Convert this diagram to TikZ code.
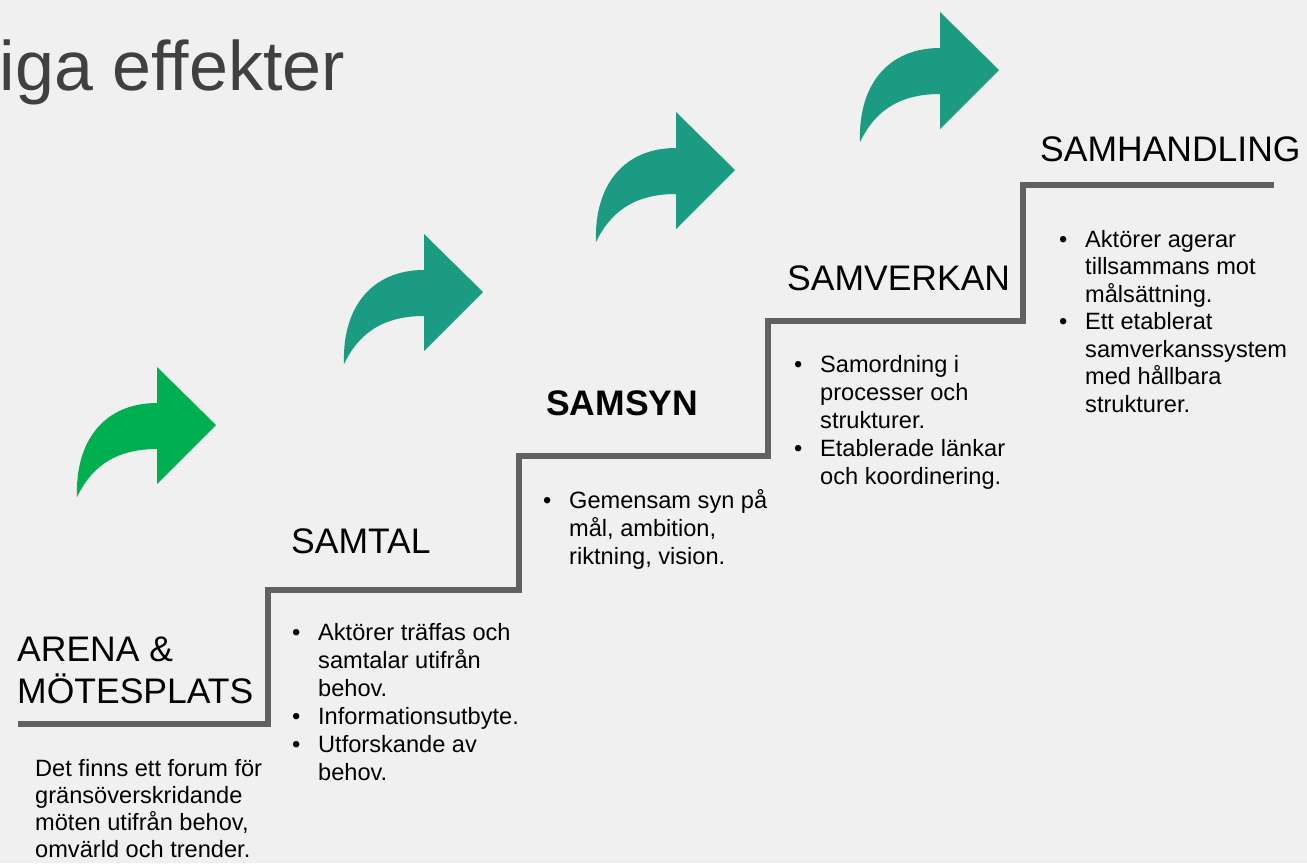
\documentclass[tikz,border=0pt]{standalone}
\usepackage{fontspec}
\setmainfont{Liberation Sans}
\definecolor{bgcol}{HTML}{F0F0F0}
\definecolor{stair}{HTML}{616161}
\definecolor{greenarrow}{HTML}{00B050}
\definecolor{tealarrow}{HTML}{1B9B81}
\definecolor{titlecol}{HTML}{404040}
\newcommand\blt{\makebox[26pt][l]{\textbullet}}
\begin{document}
\begin{tikzpicture}[x=1pt,y=-1pt,
  lbl/.style={anchor=base west, inner sep=0pt, text=black, font=\fontsize{35.5}{42.5}\selectfont},
  body/.style={anchor=base west, inner sep=0pt, text=black, font=\fontsize{23.6}{28}\selectfont},
  curvarrow/.pic={
    \fill[pic actions] (0,-58) -- (59,0) -- (0,59) -- (0,24)
      .. controls (-45,24) and (-67,45) .. (-80,72)
      .. controls (-82,15) and (-52,-22) .. (0,-22) -- cycle;
  }]
\fill[bgcol] (0,0) rectangle (1307,863);
\useasboundingbox (0,0) rectangle (1307,863);

% title (cut off at the left edge)
\node[anchor=base east, inner sep=0pt, text=titlecol, font=\fontsize{70}{80}\selectfont] (title) at (345,90) {iga effekter};

% staircase
\draw[stair, line width=5.5pt, line join=miter]
  (18,724) -- (268,724) -- (268,590) -- (519,590) -- (519,456) -- (768,456)
  -- (768,321) -- (1023,321) -- (1023,185) -- (1274,185);

% arrows
\pic[fill=greenarrow] at (157,425) {curvarrow};
\pic[fill=tealarrow] at (424,292) {curvarrow};
\pic[fill=tealarrow] at (676,170) {curvarrow};
\pic[fill=tealarrow] at (940,70) {curvarrow};

% step labels
\node[lbl] (arena) at (17,661) {\begin{tabular}[t]{@{}l@{}}ARENA \&\\MÖTESPLATS\end{tabular}};
\node[lbl] (samtal) at (291,553) {SAMTAL};
\node[lbl, font=\fontsize{35.5}{42.5}\selectfont\bfseries] (samsyn) at (546,415) {SAMSYN};
\node[lbl] (samverkan) at (787,290) {SAMVERKAN};
\node[lbl] (samhandling) at (1040,161) {SAMHANDLING};

% step texts
\node[body, font=\fontsize{23.6}{27.3}\selectfont] (arenatxt) at (35,776) {\begin{tabular}[t]{@{}l@{}}
Det finns ett forum för\\
gränsöverskridande\\
möten utifrån behov,\\
omvärld och trender.\end{tabular}};

\node[body] (samtaltxt) at (292,640) {\begin{tabular}[t]{@{}l@{}l@{}}
\blt & Aktörer träffas och\\
 & samtalar utifrån\\
 & behov.\\
\blt & Informationsutbyte.\\
\blt & Utforskande av\\
 & behov.\end{tabular}};

\node[body] (samsyntxt) at (543,508) {\begin{tabular}[t]{@{}l@{}l@{}}
\blt & Gemensam syn på\\
 & mål, ambition,\\
 & riktning, vision.\end{tabular}};

\node[body] (samverkantxt) at (794,372) {\begin{tabular}[t]{@{}l@{}l@{}}
\blt & Samordning i\\
 & processer och\\
 & strukturer.\\
\blt & Etablerade länkar\\
 & och koordinering.\end{tabular}};

\node[body, font=\fontsize{23.6}{27.5}\selectfont] (samhandlingtxt) at (1059,247) {\begin{tabular}[t]{@{}l@{}l@{}}
\blt & Aktörer agerar\\
 & tillsammans mot\\
 & målsättning.\\
\blt & Ett etablerat\\
 & samverkanssystem\\
 & med hållbara\\
 & strukturer.\end{tabular}};
\end{tikzpicture}
\end{document}
